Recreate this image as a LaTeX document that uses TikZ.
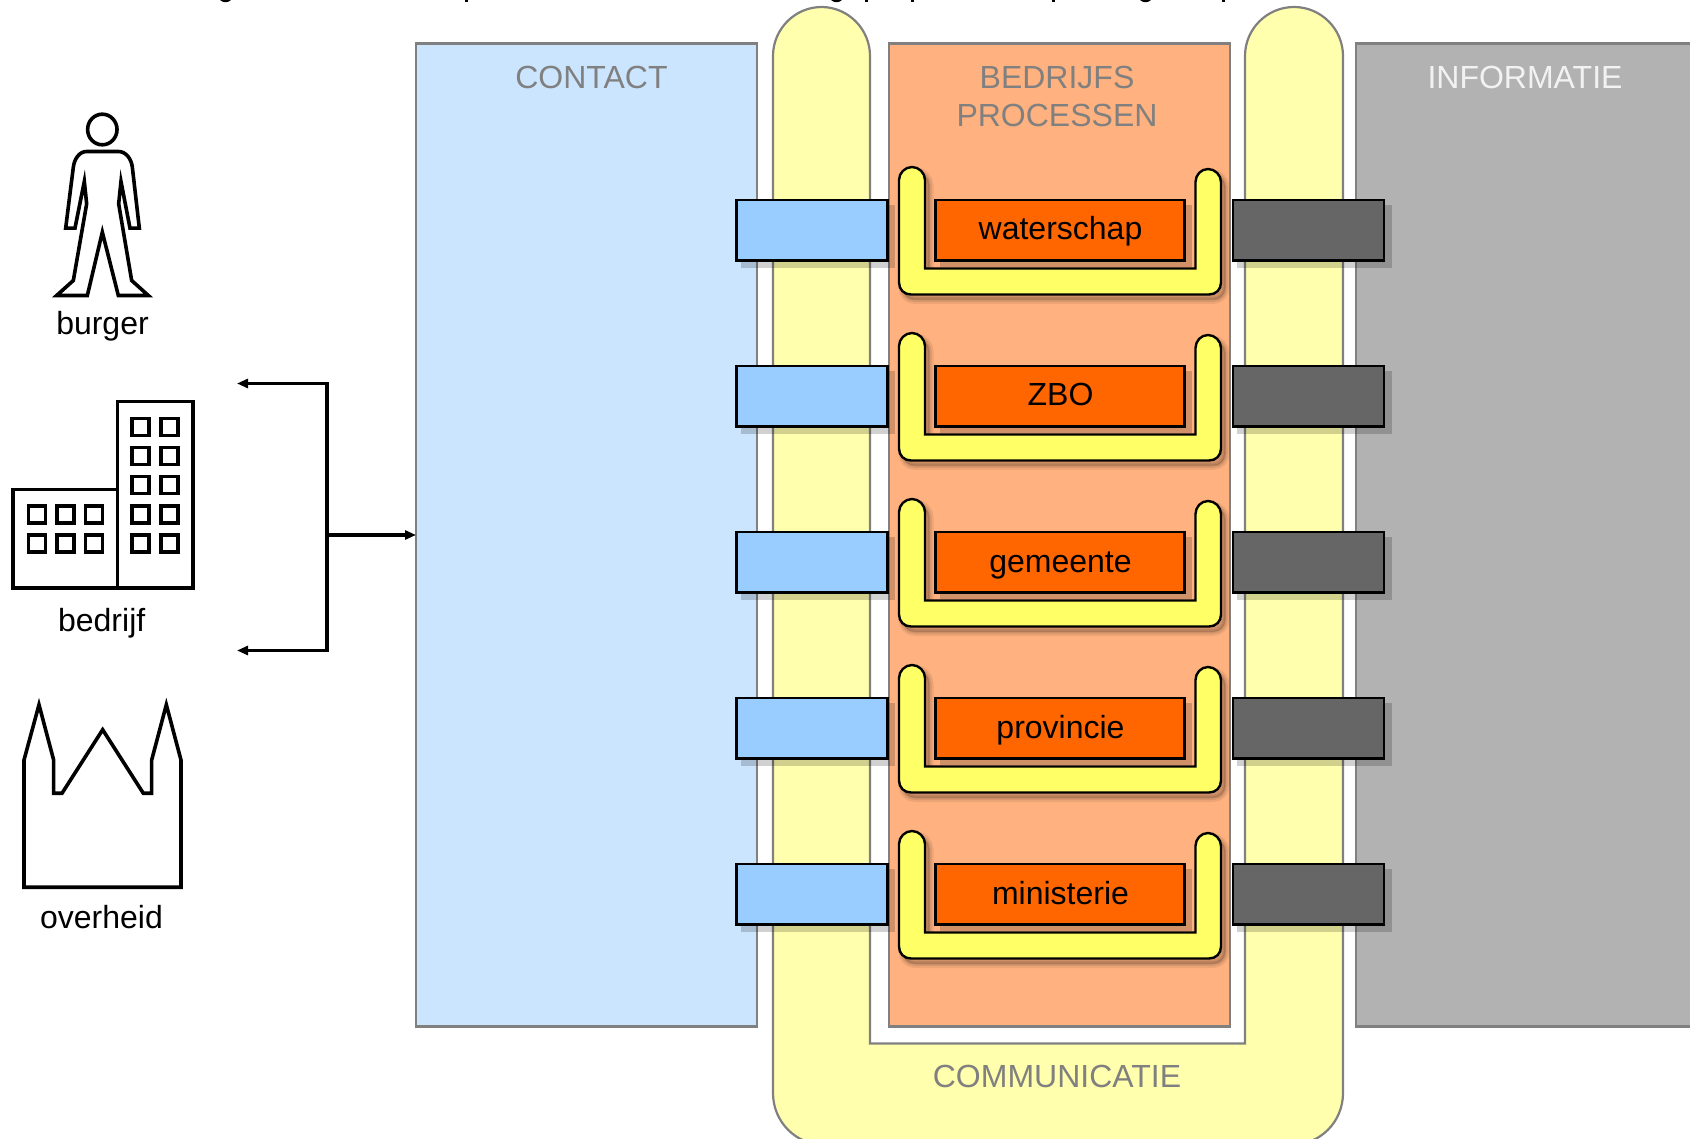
\documentclass[tikz,border=0pt]{standalone}
\usepackage{fontspec}
\setmainfont{Liberation Sans}
\usetikzlibrary{arrows.meta}
\definecolor{edgegrey}{HTML}{808080}
\definecolor{contactfill}{HTML}{CCE5FF}
\definecolor{commfill}{HTML}{FFFFAD}
\definecolor{procfill}{HTML}{FFB27F}
\definecolor{infofill}{HTML}{B2B2B2}
\definecolor{tabblue}{HTML}{99CCFF}
\definecolor{tabdark}{HTML}{666666}
\definecolor{orangefill}{HTML}{FF6600}
\definecolor{ufill}{HTML}{FFFF66}
\definecolor{infotext}{HTML}{F2F2F2}
\newcommand{\bigfont}{\fontsize{32}{38}\selectfont}
\newcommand{\uoutline}{(899,180) .. controls (899,173) and (905,167) .. (912,167) .. controls (919,167) and (925,173) .. (925,180) -- (925,268.5) -- (1195.5,268.5) -- (1195.5,182) .. controls (1195.5,175) and (1201,169) .. (1208,169) .. controls (1215,169) and (1221,175) .. (1221,182) -- (1221,282.5) .. controls (1221,289.5) and (1216,294.5) .. (1209,294.5) -- (911,294.5) .. controls (904,294.5) and (899,289.5) .. (899,282.5) -- cycle}
\tikzset{
  panel/.style={draw=edgegrey,line width=2.2pt,anchor=north west,inner sep=0pt,outer sep=0pt},
  paneltitle/.style={anchor=base,text=edgegrey,font=\bigfont,inner sep=0pt},
  tabbox/.style={draw=black,line width=2.4pt,anchor=north west,inner sep=0pt,outer sep=0pt,minimum height=60.5pt},
  shadowfill/.style={fill=black,opacity=.18},
  icon/.style={draw=black,line width=3.6pt,line join=miter},
  iconlabel/.style={anchor=base,text=black,font=\bigfont,inner sep=0pt},
  flow/.style={draw=black,line width=3.8pt}
}
\begin{document}
\begin{tikzpicture}[x=1pt,y=-1pt]
\clip (0,0) rectangle (1690,1139);
\fill[white] (0,0) rectangle (1690,1139);
% clipped line of text at the very top: only its descenders remain
\fill[black] (220,0) .. controls (223,3) and (228,3) .. (231,0) -- cycle;
\fill[black] (831,0) .. controls (834,3) and (839,3) .. (842,0) -- cycle;
\fill[black] (1140,0) .. controls (1143,3) and (1148,3) .. (1151,0) -- cycle;
\fill[black] (464.5,0) rectangle (467.5,2);
\fill[black] (864.5,0) rectangle (867.5,2);
\fill[black] (911,0) rectangle (914,2);
\fill[black] (1051.5,0) rectangle (1054.5,2);
\fill[black] (1221.5,0) rectangle (1224.5,2);
% panels
\node[panel,fill=contactfill,minimum width=341pt,minimum height=983pt] (contact) at (416,43.5) {};
\draw[edgegrey,line width=2.2pt,fill=commfill]
  (773,56) .. controls (773,29) and (795,7) .. (821.5,7) .. controls (848,7) and (870,29) .. (870,56)
  -- (870,1043.5) -- (1245,1043.5) -- (1245,56)
  .. controls (1245,29) and (1267,7) .. (1294,7) .. controls (1321,7) and (1343,29) .. (1343,56)
  -- (1343,1093) .. controls (1343,1122) and (1320,1145) .. (1291,1145)
  -- (825,1145) .. controls (796,1145) and (773,1122) .. (773,1093) -- cycle;
\node[panel,fill=procfill,minimum width=341pt,minimum height=983pt] (proc) at (889,43.5) {};
\node[panel,fill=infofill,minimum width=360pt,minimum height=983pt] (info) at (1356,43.5) {};
\node[paneltitle] (tcontact) at (591.5,88.5) {CONTACT};
\node[paneltitle] (tbedrijfs) at (1057,88.5) {BEDRIJFS};
\node[paneltitle] (tprocessen) at (1057,126.5) {PROCESSEN};
\node[paneltitle,text=infotext] (tinfo) at (1525,88.5) {INFORMATIE};
\node[paneltitle] (tcomm) at (1057,1087) {COMMUNICATIE};
% five rows
\foreach \i/\lab in {0/waterschap,1/ZBO,2/gemeente,3/provincie,4/ministerie}{
  \pgfmathsetlengthmacro{\dy}{-166*\i}
  \begin{scope}[yshift=\dy]
    \fill[shadowfill] (741,205) rectangle (895,268);
    \fill[shadowfill] (1237,205) rectangle (1392,268);
    \node[tabbox,fill=tabblue,minimum width=151pt] (blue\i) at (736.5,200) {};
    \node[tabbox,fill=tabdark,minimum width=151pt] (dark\i) at (1233,200) {};
    \begin{scope}[xshift=4pt,yshift=-5pt]
      \draw[black,opacity=.07,line width=9pt,line join=round] \uoutline;
      \draw[black,opacity=.09,line width=5pt,line join=round] \uoutline;
      \draw[black,opacity=.12,line width=1.5pt,fill=black,fill opacity=.12] \uoutline;
    \end{scope}
    \draw[black,line width=2.4pt,fill=ufill] \uoutline;
    \fill[shadowfill] (940,205) rectangle (1192,267.3);
    \node[tabbox,fill=orangefill,minimum width=249pt] (org\i) at (935.5,200) {};
    \node[iconlabel] (lab\i) at (1060.5,240) {\lab};
  \end{scope}
}
% person
\begin{scope}[xshift=40pt,yshift=-100.5pt,x=.33333pt,y=-.33333pt]
  \draw[icon] (187,87) ellipse [x radius=14.7pt,y radius=15.3pt];
  \draw[icon] (140,153) -- (235,153) .. controls (258,153) and (274,175) .. (277,200)
    -- (298,383) -- (270,383) -- (243,243) -- (236,310) -- (275,540) -- (325,585)
    -- (235,585) -- (187,395) -- (142,585) -- (50,585) -- (100,540) -- (140,310)
    -- (133,243) -- (105,383) -- (77,383) -- (100,200)
    .. controls (103,175) and (118,153) .. (140,153) -- cycle;
\end{scope}
\node[iconlabel] (burger) at (102.5,335) {burger};
% building
\draw[icon] (12.7,489.3) rectangle (117.3,588.2);
\draw[icon] (117.3,401.4) rectangle (192.7,588.2);
\foreach \yy in {418.4,447.5,476.6,505.7,534.8}{
  \draw[icon] (132,\yy) rectangle ++(17,17);
  \draw[icon] (161,\yy) rectangle ++(17,17);
}
\foreach \yy in {505.7,534.8}{
  \draw[icon] (28.5,\yy) rectangle ++(17,17);
  \draw[icon] (57,\yy) rectangle ++(17,17);
  \draw[icon] (85.5,\yy) rectangle ++(17,17);
}
\node[iconlabel] (bedrijf) at (101.7,631) {bedrijf};
% church
\begin{scope}[yshift=-381.5pt,x=.33333pt,y=-.35714pt]
  \draw[icon] (72,1416) -- (72,1060) -- (117,905) -- (161,1060) -- (161,1153) -- (186,1153)
    -- (308,975) -- (430,1153) -- (455,1153) -- (455,1060) -- (499,905) -- (543,1060)
    -- (543,1416) -- cycle;
\end{scope}
\node[iconlabel] (overheid) at (101.5,928) {overheid};
% connectors
\coordinate (up) at (237,383.5);
\coordinate (down) at (237,650.5);
\coordinate (branch) at (327,535);
\draw[flow,{Triangle[length=11pt,width=9pt]}-{Triangle[length=11pt,width=9pt]}] (up) -- (327,383.5) -- (327,650.5) -- (down);
\draw[draw=black,line width=3.8pt,-{Triangle[length=11pt,width=9pt]}] (branch) -- (contact.west);
\end{tikzpicture}
\end{document}
